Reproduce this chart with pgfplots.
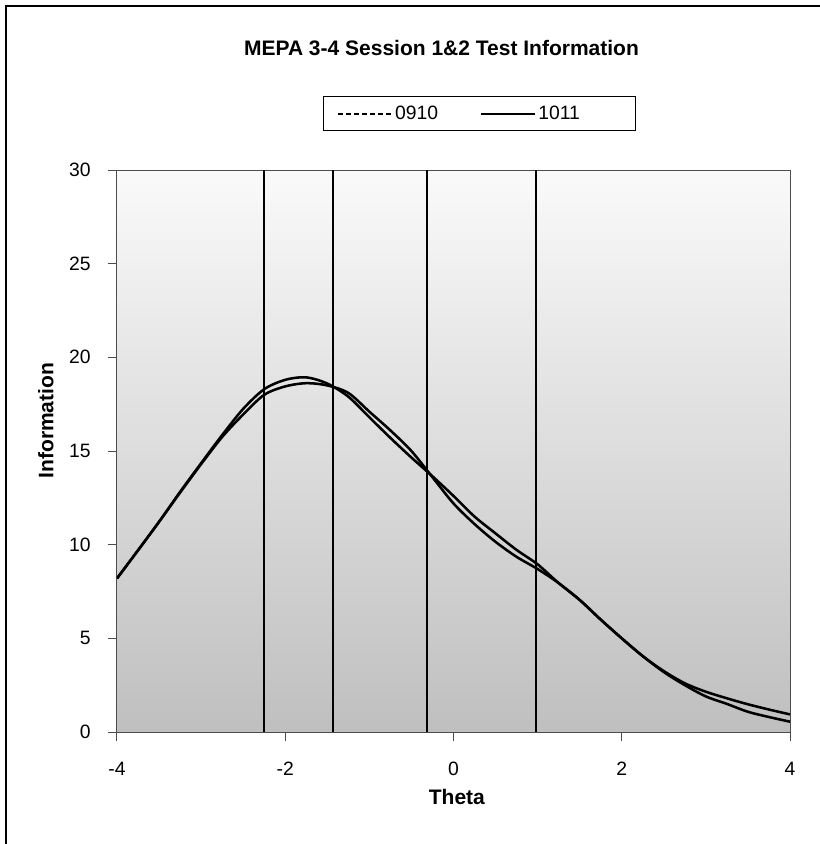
\documentclass[border=0pt]{standalone}
\usepackage{pgfplots}
\pgfplotsset{compat=1.18}
\usepackage{fontspec}
\setmainfont{Liberation Sans}
\begin{document}
\begin{tikzpicture}[x=1pt,y=1pt]
\useasboundingbox (0,0) rectangle (614.25,-633);
\draw[line width=1.5pt] (4.5,-640) -- (4.5,-4.5) -- (620,-4.5);
\node[anchor=base, font=\bfseries\fontsize{15.75}{18}\selectfont] at (331.1,-41.25) {MEPA 3-4 Session 1\&2 Test Information};
\begin{axis}[
  at={(87.75pt,-549pt)}, anchor=south west,
  width=504.75pt, height=421.5pt, scale only axis,
  xmin=-4, xmax=4, ymin=0, ymax=30,
  xtick={-4,-2,0,2,4}, ytick={0,5,10,15,20,25,30},
  xtick pos=bottom, ytick pos=left,
  tick align=outside, major tick length=6.75pt,
  tick style={black!70, line width=0.75pt},
  axis line style={black!70, line width=0.75pt},
  axis background/.style={shade, top color=white!98!black, bottom color=black!25},
  /pgf/number format/assume math mode=true,
  ticklabel style={font=\fontsize{14.5}{17}\selectfont},
  yticklabel style={xshift=-9.5pt},
  xticklabel style={yshift=-12pt},
  xlabel={Theta}, ylabel={Information},
  label style={font=\bfseries\fontsize{15.75}{18}\selectfont},
  xlabel style={at={(axis description cs:0.505,-0.1165)}, anchor=center},
  ylabel style={at={(axis description cs:-0.1058,0.554)}, anchor=center, rotate=0},
  legend columns=2,
  legend cell align=left,
  legend style={at={(axis description cs:0.538,1.1005)}, anchor=center, draw=black, line width=0.75pt, fill=white,
    font=\fontsize{14.5}{17}\selectfont, inner xsep=10.5pt, inner ysep=5pt,
    /tikz/every even column/.append style={column sep=4pt}},
  legend image code/.code={\draw[#1] (0pt,0pt) -- (40pt,0pt);},
]
\addplot[black, line width=1.9pt, smooth, forget plot] coordinates {
(-4,8.2) (-3.75,9.7) (-3.5,11.22) (-3.25,12.82) (-3,14.35) (-2.75,15.85) (-2.5,17.25)
(-2.25,18.3) (-2,18.8) (-1.75,18.93) (-1.5,18.6) (-1.25,17.9) (-1,16.8) (-0.75,15.7)
(-0.5,14.65) (-0.25,13.65) (0,12.6) (0.25,11.5) (0.5,10.6) (0.75,9.72) (1,8.95)
(1.25,7.95) (1.5,7.05) (1.75,6.0) (2,5.0) (2.25,4.05) (2.5,3.25) (2.75,2.6)
(3,2.15) (3.25,1.8) (3.5,1.48) (3.75,1.2) (4,0.94)};
\addplot[black, line width=1.9pt, smooth, forget plot] coordinates {
(-4,8.2) (-3.75,9.7) (-3.5,11.22) (-3.25,12.78) (-3,14.3) (-2.75,15.75) (-2.5,16.95)
(-2.25,18.0) (-2,18.45) (-1.75,18.62) (-1.5,18.5) (-1.25,18.1) (-1,17.1) (-0.75,16.1)
(-0.5,15.0) (-0.25,13.6) (0,12.2) (0.25,11.1) (0.5,10.15) (0.75,9.35) (1,8.7)
(1.25,7.95) (1.5,7.05) (1.75,6.0) (2,5.0) (2.25,4.05) (2.5,3.2) (2.75,2.5)
(3,1.9) (3.25,1.5) (3.5,1.08) (3.75,0.8) (4,0.55)};
\addplot[black, line width=1.5pt, forget plot] coordinates {(-2.25,0) (-2.25,30)};
\addplot[black, line width=1.5pt, forget plot] coordinates {(-1.43,0) (-1.43,30)};
\addplot[black, line width=1.5pt, forget plot] coordinates {(-0.32,0) (-0.32,30)};
\addplot[black, line width=1.5pt, forget plot] coordinates {(0.98,0) (0.98,30)};
\addlegendimage{black, line width=1.5pt, dash pattern=on 3.5pt off 2.5pt}
\addlegendentry{\makebox[58pt][l]{0910}}
\addlegendimage{black, line width=1.5pt}
\addlegendentry{\makebox[60pt][l]{1011}}
\end{axis}
\end{tikzpicture}
\end{document}
